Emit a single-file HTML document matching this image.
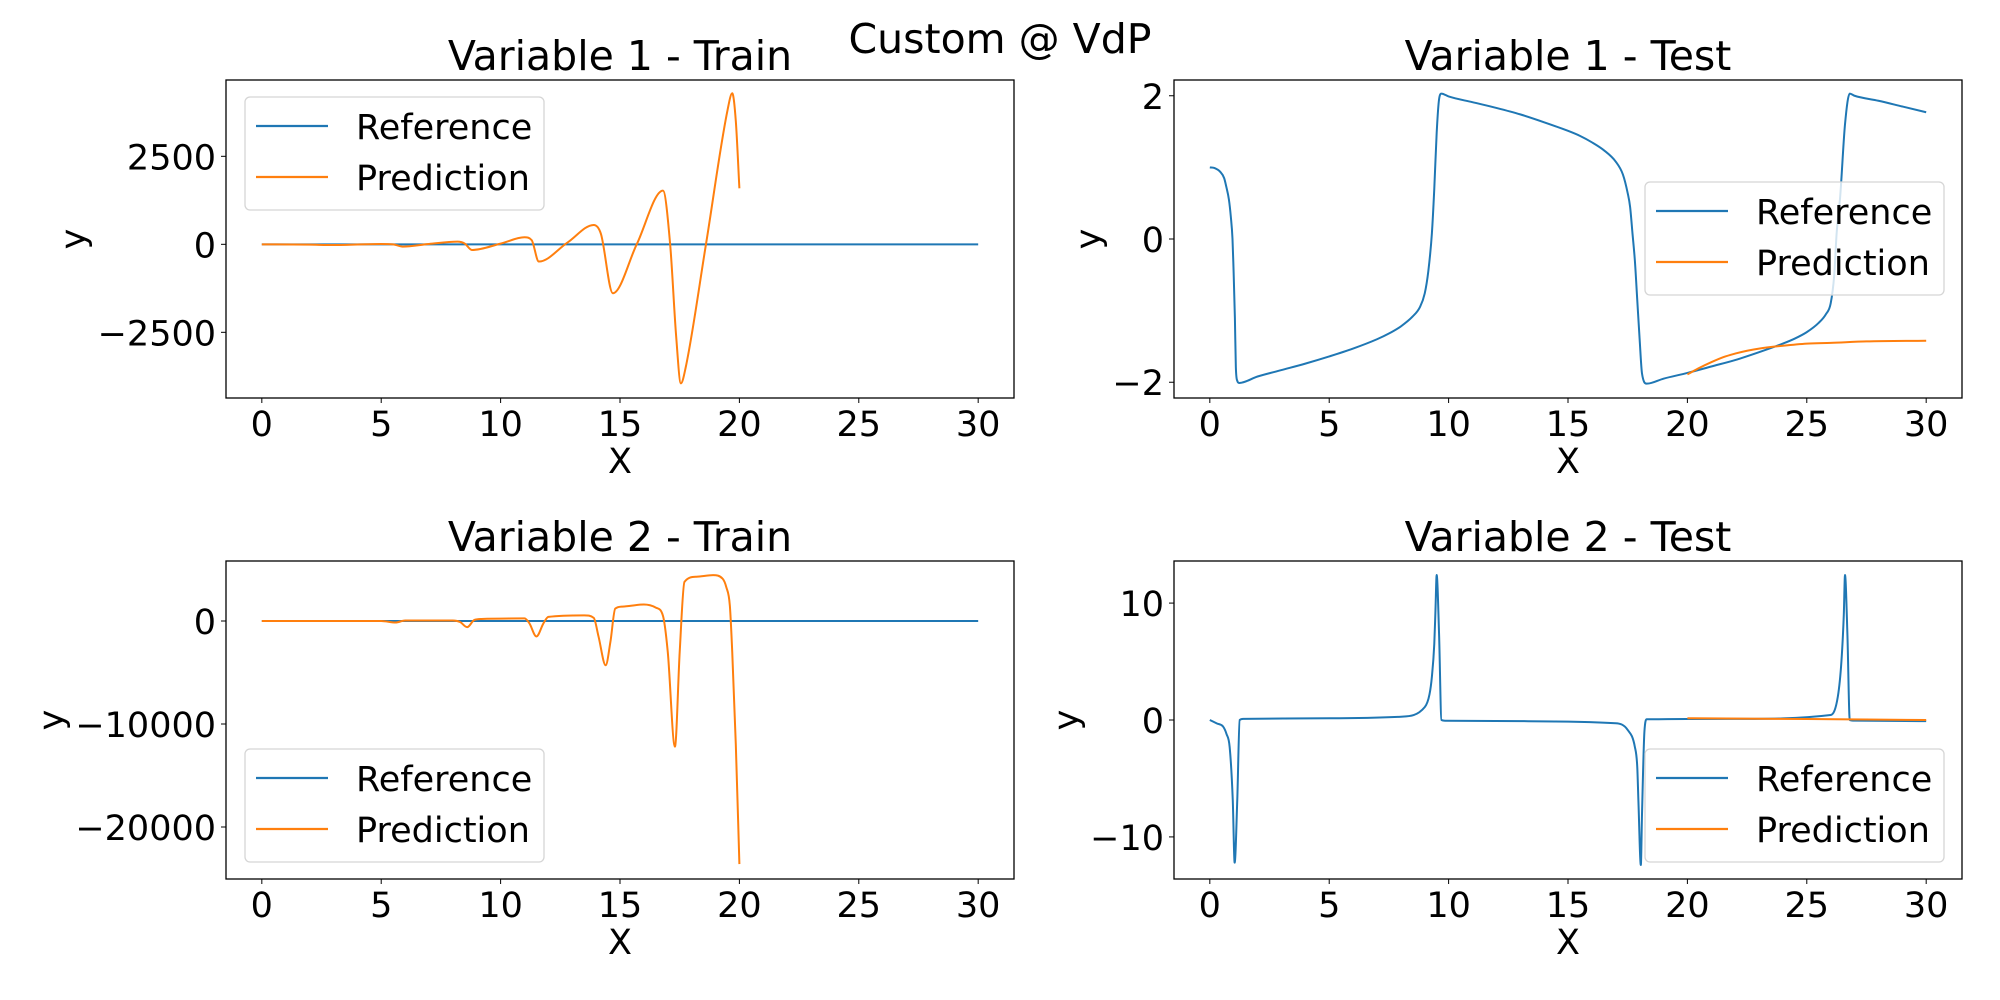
<!DOCTYPE html>
<html><head><meta charset="utf-8"><style>
html,body{margin:0;padding:0;background:#fff;}
svg{display:block;font-family:"DejaVu Sans","Liberation Sans",sans-serif;}
</style></head><body>
<svg id="fig" width="2000" height="1000" viewBox="0 0 2000 1000" xmlns="http://www.w3.org/2000/svg">
<rect width="2000" height="1000" fill="#fff"/>
<text x="1000" y="53" font-size="41" text-anchor="middle">Custom @ VdP</text>
</svg>
<script>
// ---- data ----
const xTicks = [0, 5, 10, 15, 20, 25, 30];
const refTrainX = [0, 30];
const refTrainY = [0, 0];
const v1TrainPredX = [0,2,3,5,5.5,5.9,7,8.2,8.5,8.8,10,11,11.3,11.6,12.8,13.9,14.2,14.7,15.7,16.8,17.1,17.35,17.55,17.75,18.6,19.5,19.7,19.85,20];
const v1TrainPredY = [0,-10,-20,10,0,-65,10,75,20,-160,20,200,120,-490,50,550,300,-1390,0,1525,0,-2600,-3950,-3500,0,3800,4290,3500,1590];
const v1TrainTicks = [-2500, 0, 2500];
const v1TrainTickLabels = ["\u22122500", "0", "2500"];

const v2TrainPredX = [0,5,5.6,6,8,8.3,8.6,8.9,9.2,11,11.2,11.5,11.8,12,13.5,13.9,14.1,14.4,14.6,14.8,15.1,16,16.5,16.8,17.0,17.3,17.5,17.7,18.2,18.9,19.3,19.45,19.6,19.7,19.85,20];
const v2TrainPredY = [0,0,-150,50,50,-100,-600,100,200,250,-200,-1500,-200,400,550,300,-1500,-4300,-2000,1200,1400,1600,1300,500,-3000,-12200,-3000,3800,4300,4450,4100,3300,1500,-3000,-12000,-23600];
const v2TrainTicks = [-20000, -10000, 0];
const v2TrainTickLabels = ["\u221220000", "\u221210000", "0"];

const v1TestRefX = [0,0.2,0.43,0.6,0.69,0.8,0.88,0.95,0.99,1.05,1.09,1.15,1.23,2,3,4,5,6,7,7.5,8,8.5,8.8,9,9.15,9.3,9.4,9.5,9.6,9.7,10,11,12,13,14,15,15.5,16,16.5,17,17.3,17.5,17.6,17.7,17.8,17.9,18.0,18.1,18.3,19,20,21,22,23,24,24.5,25,25.5,25.8,26,26.15,26.25,26.4,26.6,26.8,27,28,29,30];
const v1TestRefY = [1.0,0.99,0.94,0.85,0.73,0.55,0.31,0.0,-0.39,-1.1,-1.79,-1.98,-2.01,-1.92,-1.83,-1.74,-1.64,-1.53,-1.40,-1.32,-1.22,-1.08,-0.95,-0.76,-0.45,0.08,0.7,1.48,1.95,2.03,1.99,1.91,1.83,1.74,1.63,1.51,1.44,1.35,1.24,1.08,0.9,0.64,0.45,0.08,-0.3,-0.85,-1.4,-1.88,-2.02,-1.95,-1.87,-1.78,-1.69,-1.58,-1.46,-1.39,-1.30,-1.17,-1.05,-0.9,-0.5,0.08,0.6,1.6,2.03,2.0,1.93,1.85,1.77];
const v1TestPredX = [20,20.5,21,21.5,22,22.5,23,24,25,26,27.5,30];
const v1TestPredY = [-1.89,-1.8,-1.72,-1.65,-1.6,-1.56,-1.53,-1.49,-1.46,-1.45,-1.43,-1.42];
const v1TestTicks = [-2, 0, 2];
const v1TestTickLabels = ["\u22122", "0", "2"];

const v2TestRefX = [0,0.3,0.56,0.7,0.83,0.96,1.04,1.15,1.25,1.4,5,8,9,9.2,9.3,9.4,9.45,9.5,9.6,9.7,9.85,13,17,17.5,17.8,17.9,17.95,18.05,18.1,18.2,18.3,22,26,26.3,26.45,26.55,26.6,26.7,26.8,27,30];
const v2TestRefY = [0,-0.3,-0.57,-1.2,-2.3,-6.8,-12.2,-6.8,0,0.1,0.15,0.28,1.1,2.2,3.7,6.5,9.4,12.4,7.4,0,-0.06,-0.1,-0.28,-0.85,-2.3,-4,-7,-12.4,-8,-1,0.06,0.1,0.43,2,5,9,12.4,7.4,0,-0.05,-0.1];
const v2TestPredX = [20, 25, 30];
const v2TestPredY = [0.15, 0.08, 0.0];
const v2TestTicks = [-10, 0, 10];
const v2TestTickLabels = ["\u221210", "0", "10"];

// ---- layout ----
const NS = "http://www.w3.org/2000/svg";
const svg = document.getElementById("fig");
const BLUE = "#1f77b4", ORANGE = "#ff7f0e";
function mk(tag, attrs, parent) {
  const e = document.createElementNS(NS, tag);
  for (const k in attrs) e.setAttribute(k, attrs[k]);
  (parent || svg).appendChild(e);
  return e;
}
// monotone cubic (Fritsch-Carlson) path through pixel points
function monoPath(px, py) {
  const n = px.length;
  if (n < 3) return "M" + px.map((x, i) => x.toFixed(2) + "," + py[i].toFixed(2)).join(" L");
  const d = [], m = new Array(n);
  for (let i = 0; i < n - 1; i++) d.push((py[i + 1] - py[i]) / (px[i + 1] - px[i]));
  m[0] = d[0]; m[n - 1] = d[n - 2];
  for (let i = 1; i < n - 1; i++) m[i] = (d[i - 1] * d[i] <= 0) ? 0 : (d[i - 1] + d[i]) / 2;
  for (let i = 0; i < n - 1; i++) {
    if (d[i] === 0) { m[i] = 0; m[i + 1] = 0; continue; }
    const a = m[i] / d[i], b = m[i + 1] / d[i], s = a * a + b * b;
    if (s > 9) { const t = 3 / Math.sqrt(s); m[i] = t * a * d[i]; m[i + 1] = t * b * d[i]; }
  }
  let p = "M" + px[0].toFixed(2) + "," + py[0].toFixed(2);
  for (let i = 0; i < n - 1; i++) {
    const h = (px[i + 1] - px[i]) / 3;
    p += " C" + (px[i] + h).toFixed(2) + "," + (py[i] + m[i] * h).toFixed(2) + " " +
      (px[i + 1] - h).toFixed(2) + "," + (py[i + 1] - m[i + 1] * h).toFixed(2) + " " +
      px[i + 1].toFixed(2) + "," + py[i + 1].toFixed(2);
  }
  return p;
}
function panel(cfg) {
  const g = mk("g", {});
  
  
  const L = cfg.left, R = cfg.left + 788, T = cfg.top, B = cfg.top + 318;
  const sx = v => L + (v + 1.5) / 33 * 788;
  const sy = v => B - (v - cfg.ymin) / (cfg.ymax - cfg.ymin) * 318;
  const title = mk("text", {x: (L + R) / 2, y: T - 10, "font-size": 41, "text-anchor": "middle"}, g);
  title.textContent = cfg.title;
  
  
  const clipId = "c" + cfg.name;
  const cp = mk("clipPath", {id: clipId}, g);
  mk("rect", {x: L, y: T, width: 788, height: 318}, cp);
  const series = [[cfg.refX, cfg.refY, BLUE, 'reference-line'], [cfg.predX, cfg.predY, ORANGE, 'prediction-line']];
  for (const s of series) {
    const path = monoPath(s[0].map(sx), s[1].map(sy));
    const pl = mk("path", {d: path, fill: "none", stroke: s[2], "stroke-width": 2, "stroke-linejoin": "round", "clip-path": "url(#" + clipId + ")"}, g);
    
    
  }
  mk("rect", {x: L, y: T, width: 788, height: 318, fill: "none", stroke: "#000", "stroke-width": 1.3}, g);
  xTicks.forEach((t, i) => {
    const x = sx(t);
    mk("line", {x1: x, y1: B, x2: x, y2: B + 5, stroke: "#000", "stroke-width": 1}, g);
    const tx = mk("text", {x: x, y: B + 38, "font-size": 35, "text-anchor": "middle"}, g);
    tx.textContent = String(t);
    
    
  });
  cfg.yTicks.forEach((t, i) => {
    const y = sy(t);
    mk("line", {x1: L - 5, y1: y, x2: L, y2: y, stroke: "#000", "stroke-width": 1}, g);
    const ty = mk("text", {x: L - 10, y: y + 13, "font-size": 35, "text-anchor": "end"}, g);
    ty.textContent = cfg.yLabels[i];
    
    
  });
  const xl = mk("text", {x: (L + R) / 2, y: B + 75, "font-size": 35, "text-anchor": "middle"}, g);
  xl.textContent = "X";
  
  
  const yl = mk("text", {x: 0, y: 0, "font-size": 35, "text-anchor": "middle", transform: "translate(" + cfg.ylx + "," + (T + 159) + ") rotate(-90)"}, g);
  yl.textContent = "y";
  
  
  // legend
  const lg = mk("g", {}, g);
  
  
  const lx = cfg.legX, ly = cfg.legY;
  mk("rect", {x: lx, y: ly, width: 299, height: 113, rx: 5, fill: "#fff", "fill-opacity": 0.8, stroke: "#d5d5d5", "stroke-width": 1.3}, lg);
  [["Reference", BLUE, 29], ["Prediction", ORANGE, 80]].forEach(e => {
    const en = mk("g", {}, lg);
    
    
    mk("line", {x1: lx + 11, y1: ly + e[2], x2: lx + 83, y2: ly + e[2], stroke: e[1], "stroke-width": 2.2}, en);
    const t = mk("text", {x: lx + 111, y: ly + e[2] + 13, "font-size": 35}, en);
    t.textContent = e[0];
  });
}
panel({name: "variable-1-train", title: "Variable 1 - Train", left: 226, top: 80, ymin: -4366, ymax: 4668,
  refX: refTrainX, refY: refTrainY, predX: v1TrainPredX, predY: v1TrainPredY,
  yTicks: v1TrainTicks, yLabels: v1TrainTickLabels, ylx: 85, legX: 245, legY: 97});
panel({name: "variable-1-test", title: "Variable 1 - Test", left: 1174, top: 80, ymin: -2.22, ymax: 2.22,
  refX: v1TestRefX, refY: v1TestRefY, predX: v1TestPredX, predY: v1TestPredY,
  yTicks: v1TestTicks, yLabels: v1TestTickLabels, ylx: 1100, legX: 1645, legY: 182});
panel({name: "variable-2-train", title: "Variable 2 - Train", left: 226, top: 561, ymin: -25050, ymax: 5825,
  refX: refTrainX, refY: refTrainY, predX: v2TrainPredX, predY: v2TrainPredY,
  yTicks: v2TrainTicks, yLabels: v2TrainTickLabels, ylx: 63, legX: 245, legY: 749});
panel({name: "variable-2-test", title: "Variable 2 - Test", left: 1174, top: 561, ymin: -13.6, ymax: 13.6,
  refX: v2TestRefX, refY: v2TestRefY, predX: v2TestPredX, predY: v2TestPredY,
  yTicks: v2TestTicks, yLabels: v2TestTickLabels, ylx: 1078, legX: 1645, legY: 749});
</script>
</body></html>
